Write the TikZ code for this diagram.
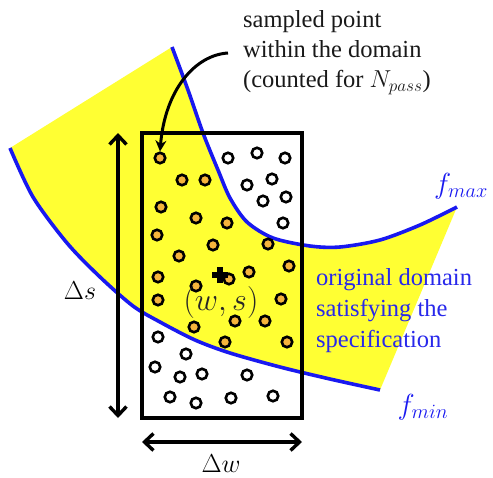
\RequirePackage{fix-cm}
\documentclass[tikz,border=0pt]{standalone}
\usepackage{fontspec}
\setmainfont{Liberation Serif}
\usetikzlibrary{arrows.meta}
\definecolor{fillyellow}{RGB}{255,255,51}
\definecolor{curveblue}{RGB}{25,25,240}
\definecolor{textblue}{RGB}{40,40,235}
\definecolor{dotorange}{RGB}{245,180,60}
\begin{document}
\begin{tikzpicture}[x=1pt,y=-1pt,
  curve/.style={draw=curveblue,line width=3.6pt},
  odot/.style={circle,draw=black,fill=dotorange,line width=2.6pt,minimum size=10.5pt,inner sep=0pt},
  wdot/.style={circle,draw=black,fill=white,line width=2.6pt,minimum size=10.5pt,inner sep=0pt},
  dim/.style={line width=3.4pt,{Straight Barb[length=9pt,width=17pt]}-{Straight Barb[length=9pt,width=17pt]}},
  lbl/.style={font=\fontsize{24.5}{30}\selectfont,align=left,inner sep=0pt},
  mlbl/.style={font=\fontsize{26}{30}\selectfont,inner sep=0pt}
]
\useasboundingbox (0,0) rectangle (493,477);
% yellow domain
\fill[fillyellow] (10,148) -- (172,47)
  -- plot[smooth] coordinates {(172,47) (188,90) (203,133) (218,170) (230,198) (247,222) (273,238) (310,246) (340,247) (380,240) (420,225) (457,207)}
  -- (380,390)
  -- plot[smooth] coordinates {(380,390) (330,379) (280,367) (230,353) (195,340) (160,322) (133,306) (100,277) (67,243) (33,197) (10,148)}
  -- cycle;
\draw[curve] plot[smooth] coordinates {(172,47) (188,90) (203,133) (218,170) (230,198) (247,222) (273,238) (310,246) (340,247) (380,240) (420,225) (457,207)};
\draw[curve] plot[smooth] coordinates {(380,390) (330,379) (280,367) (230,353) (195,340) (160,322) (133,306) (100,277) (67,243) (33,197) (10,148)};
% box
\node[draw=black,line width=3.6pt,minimum width=160pt,minimum height=285pt,inner sep=0pt] (box) at (222,275.5) {};
% dots
\foreach \px/\py [count=\i] in {160/158,182/180,205/180,161/207,196/218,227/223,157/235,213/245,268/244,179/256,289/266,249/272,229/279,158/277,196/286,158/300,281/299,194/327,235/321,265/321,225/342,287/342}
  \node[odot] (o\i) at (\px,\py) {};
\foreach \px/\py [count=\i] in {228/158,257/153,285/158,247/185,272/179,286/197,263/201,283/223,158/337,186/354,155/367,180/377,202/374,247/375,170/397,196/403,231/398,273/396}
  \node[wdot] (w\i) at (\px,\py) {};
% plus
\coordinate (plus) at (220,275);
\draw[line width=5.5pt] ([xshift=-8pt]plus) -- ([xshift=8pt]plus);
\draw[line width=5.5pt] ([yshift=-8pt]plus) -- ([yshift=8pt]plus);
\node[font=\fontsize{32}{32}\selectfont,inner sep=0pt,text=black!85] (ws) at (221,302) {$(w,s)$};
% dimension arrows
\coordinate (st) at (118,133);
\coordinate (sb) at (118,418);
\draw[dim] (st) -- (sb);
\node[mlbl] (ds) at (80,291) {$\Delta s$};
\coordinate (wl) at (142,442);
\coordinate (wr) at (302,442);
\draw[dim] (wl) -- (wr);
\node[mlbl] (dw) at (221,464) {$\Delta w$};
% labels
\node[lbl,anchor=west,text=black!90] (samp) at (243,53) {sampled point\\within the domain\\(counted for $N_{pass}$)};
\coordinate (arrstart) at (228,53);
\draw[line width=3pt,-{Stealth[length=11pt,width=11pt]}] (arrstart) .. controls (195,55) and (165,90) .. (o1.north);
\node[lbl,anchor=west,text=textblue,font=\fontsize{24.5}{31}\selectfont] (orig) at (316,311) {original domain\\satisfying the\\specification};
\node[mlbl,text=curveblue,font=\fontsize{29}{30}\selectfont] (fmax) at (461,186) {$f_{max}$};
\node[mlbl,text=curveblue,font=\fontsize{29}{30}\selectfont] (fmin) at (423,407) {$f_{min}$};
\end{tikzpicture}
\end{document}
